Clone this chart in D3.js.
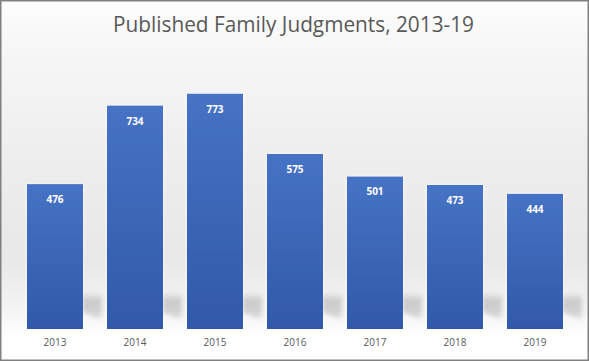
<!DOCTYPE html>
<html><head><meta charset="utf-8">
<script src="https://cdn.jsdelivr.net/npm/d3@7"></script>
<style>html,body{margin:0;padding:0;background:#fff;}svg{display:block;}</style>
</head><body>
<svg id="c" width="589" height="361"></svg>
<script>
const title = "Published Family Judgments, 2013-19";
const years = ["2013","2014","2015","2016","2017","2018","2019"];
const judgments = [476, 734, 773, 575, 501, 473, 444];

const W = 589, H = 361;
const svg = d3.select("#c");
const defs = svg.append("defs");

const bg = defs.append("linearGradient").attr("id","bg").attr("x1",0).attr("y1",0).attr("x2",0).attr("y2",1);
[[0,"#fdfdfd"],[0.15,"#f6f6f6"],[0.5,"#ececec"],[0.72,"#e8e8e8"],[0.86,"#f4f4f4"],[0.93,"#ffffff"],[1,"#ffffff"]]
  .forEach(([o,c])=>bg.append("stop").attr("offset",o).attr("stop-color",c));

const bar = defs.append("linearGradient").attr("id","bar").attr("x1",0).attr("y1",0).attr("x2",0).attr("y2",1);
[[0,"#4673c5"],[1,"#3259a8"]].forEach(([o,c])=>bar.append("stop").attr("offset",o).attr("stop-color",c));

const sh = defs.append("linearGradient").attr("id","sh").attr("x1",0).attr("y1",0).attr("x2",0).attr("y2",1);
[[0,"#c4c4c4",0],[0.3,"#bcbcbc",0.75],[0.8,"#c6c6c6",0.7],[1,"#e0e0e0",0]]
  .forEach(([o,c,a])=>sh.append("stop").attr("offset",o).attr("stop-color",c).attr("stop-opacity",a));

defs.append("filter").attr("id","blur").attr("x","-50%").attr("y","-50%").attr("width","200%").attr("height","200%")
  .append("feGaussianBlur").attr("stdDeviation",2.5);
const glow = defs.append("filter").attr("id","glow").attr("x","-20%").attr("y","-20%").attr("width","140%").attr("height","140%");
glow.append("feGaussianBlur").attr("in","SourceAlpha").attr("stdDeviation",1.5).attr("result","b");
glow.append("feFlood").attr("flood-color","#ffffff").attr("flood-opacity",0.9);
glow.append("feComposite").attr("in2","b").attr("operator","in").attr("result","g");
const m = glow.append("feMerge");
m.append("feMergeNode").attr("in","g");
m.append("feMergeNode").attr("in","SourceGraphic");

svg.append("rect").attr("x",0).attr("y",0).attr("width",W).attr("height",H).attr("fill","url(#bg)");

const x = d3.scaleBand().domain(years).range([15,575]).paddingInner(0.3).paddingOuter(0.15);
const y = d3.scaleLinear().domain([0,900]).range([329,55]);

// perspective shadows
svg.append("g").selectAll("path").data(years).join("path")
  .attr("d", d => {
    const x0 = x(d), x1 = x(d)+x.bandwidth(), yb = y(0);
    return `M${x0+18},${yb-37} L${x1+19},${yb-37} L${x1+19},${yb-8} L${x1+2},${yb-16} L${x0},${yb-10} Z`;
  })
  .attr("fill","url(#sh)").attr("filter","url(#blur)");

// bars
svg.append("g").selectAll("rect").data(years).join("rect")
  .attr("x", d=>x(d)).attr("y", (d,i)=>y(judgments[i]))
  .attr("width", x.bandwidth()).attr("height", (d,i)=>y(0)-y(judgments[i]))
  .attr("fill","url(#bar)").attr("filter","url(#glow)");

// value labels
svg.append("g").selectAll("text").data(years).join("text")
  .attr("x", d=>x(d)+x.bandwidth()/2).attr("y",(d,i)=>y(judgments[i])+19)
  .attr("text-anchor","middle").attr("fill","#ffffff")
  .style("font-family","'Open Sans', sans-serif").style("font-size","10px").style("font-weight","bold")
  .text((d,i)=>judgments[i]);

// x axis
const xAxis = svg.append("g").attr("transform",`translate(0,${y(0)})`)
  .call(d3.axisBottom(x).tickSize(0).tickPadding(10));
xAxis.select(".domain").remove();
xAxis.selectAll("text").attr("fill","#595959")
  .style("font-family","'Open Sans', sans-serif").style("font-size","10px");

// title
svg.append("text").attr("x",293.5).attr("y",32).attr("text-anchor","middle")
  .attr("fill","#595959").style("font-family","'Open Sans', sans-serif").style("font-size","21px")
  .attr("textLength",361).attr("lengthAdjust","spacingAndGlyphs")
  .text(title);

// frame
svg.append("rect").attr("x",0.75).attr("y",0.75).attr("width",W-1.5).attr("height",H-1.5)
  .attr("fill","none").attr("stroke","#808080").attr("stroke-width",1.5);
</script>
</body></html>
